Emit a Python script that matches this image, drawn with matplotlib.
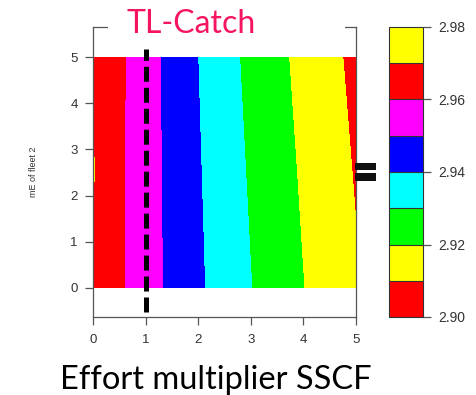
import matplotlib
matplotlib.use('Agg')
import matplotlib.pyplot as plt
from matplotlib.patches import Rectangle

# effort multiplier SSCF (x) and mE of fleet 2 (y)
effort = [0, 0.5, 1, 1.5, 2, 2.5, 3, 3.5, 4, 4.5, 5]
fleet2 = [0, 2.5, 5]
# TL of the catch, one row per fleet2 value
tl_fleet2_0 = [2.9686, 2.9613, 2.9543, 2.9476, 2.9414, 2.9357, 2.9302, 2.9252, 2.9201, 2.9155, 2.9109]
tl_fleet2_25 = [2.9705, 2.9615, 2.9542, 2.9472, 2.9407, 2.9346, 2.9289, 2.9237, 2.9187, 2.9140, 2.9093]
tl_fleet2_5 = [2.9693, 2.9617, 2.9541, 2.9468, 2.9399, 2.9334, 2.9275, 2.9222, 2.9172, 2.9124, 2.9076]

levels = [2.90, 2.91, 2.92, 2.93, 2.94, 2.95, 2.96, 2.97, 2.98]
colors = ['#ff0000', '#ffff00', '#00ff00', '#00ffff', '#0000ff', '#ff00ff', '#ff0000', '#ffff00']
cbar_ticks = [2.90, 2.92, 2.94, 2.96, 2.98]
current_effort = 1

W, H = 477, 395
fig = plt.figure(figsize=(W / 100, H / 100), dpi=100)
plt.rcParams['font.family'] = 'Liberation Sans'

ax = fig.add_axes([93 / W, (H - 317) / H, 263 / W, 290 / H])
cs = ax.contourf(effort, fleet2, [tl_fleet2_0, tl_fleet2_25, tl_fleet2_5],
                 levels=levels, colors=colors)
ax.set_xlim(0, 5)
ax.set_ylim(-0.63, 5.65)
ax.set_xticks(range(6))
ax.set_yticks(range(6))
for s in ax.spines.values():
    s.set_color('#555555')
    s.set_linewidth(0.9)
ax.tick_params(direction='out', length=6, width=0.9, color='#555555',
               labelcolor='#333333', labelsize=9.5)
ax.tick_params(axis='x', pad=6)
ax.tick_params(axis='y', pad=5)
ax.set_ylabel('mE of fleet 2', fontsize=6.5, color='#333333', labelpad=23)

# current effort marker
plt.rcParams['lines.scale_dashes'] = False
ax.plot([current_effort, current_effort], [-0.52, 5.17], color='black', lw=3.6,
        dashes=(10.8, 4.3), clip_on=False, zorder=5)

# colour key
cax = fig.add_axes([389 / W, (H - 317) / H, 34 / W, 290 / H])
cb = fig.colorbar(cs, cax=cax, drawedges=True)
cb.set_ticks(cbar_ticks)
cb.set_ticklabels(['%.2f' % t for t in cbar_ticks])
cb.outline.set_edgecolor('#333333')
cb.outline.set_linewidth(0.8)
cb.dividers.set_color('#333333')
cb.dividers.set_linewidth(0.8)
cax.tick_params(direction='out', length=6, width=0.9, color='#555555',
                labelcolor='#333333', labelsize=10, pad=5)

# slide overlays: white box behind title, "=" sign
fig.patches.append(Rectangle((108 / W, (H - 42) / H), 237 / W, 42 / H,
                             transform=fig.transFigure, facecolor='white',
                             edgecolor='none', zorder=10))
for y0, y1 in [(163, 170), (173, 181)]:
    fig.patches.append(Rectangle((355 / W, (H - y1) / H), 21 / W, (y1 - y0) / H,
                                 transform=fig.transFigure, facecolor='#111111',
                                 edgecolor='none', zorder=10))

fig.text(191 / W, (H - 33) / H, 'TL-Catch', color='#f5145f', fontsize=23,
         family='Lato', ha='center', va='baseline', zorder=11)
fig.text(216 / W, (H - 389) / H, 'Effort multiplier SSCF', color='black',
         fontsize=23.5, family='Lato', ha='center', va='baseline', zorder=11)

fig.savefig('out.png', dpi=100)
